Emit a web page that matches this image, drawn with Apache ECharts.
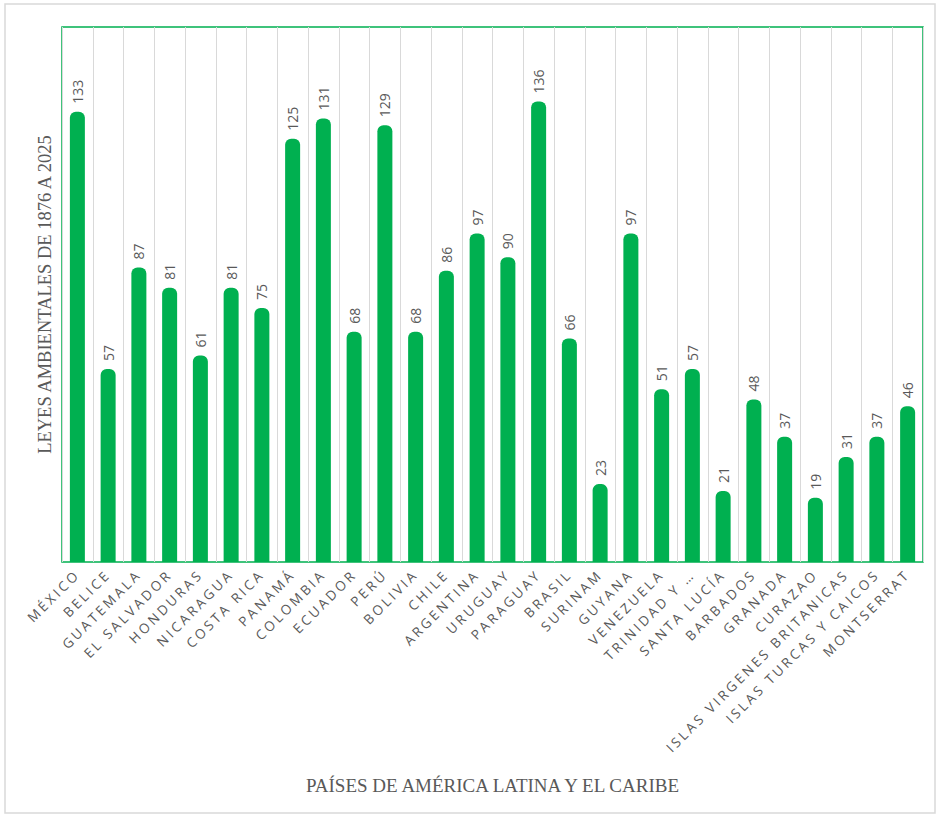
<!DOCTYPE html>
<html>
<head>
<meta charset="utf-8">
<script src="https://cdn.jsdelivr.net/npm/echarts@6/dist/echarts.min.js"></script>
<style>
html,body{margin:0;padding:0;background:#fff;}
#chart{width:939px;height:817px;}
</style>
</head>
<body>
<div id="chart"></div>
<script>
const categories = ["MÉXICO","BELICE","GUATEMALA","EL SALVADOR","HONDURAS","NICARAGUA","COSTA RICA","PANAMÁ","COLOMBIA","ECUADOR","PERÚ","BOLIVIA","CHILE","ARGENTINA","URUGUAY","PARAGUAY","BRASIL","SURINAM","GUYANA","VENEZUELA","TRINIDAD Y …","SANTA LUCÍA","BARBADOS","GRANADA","CURAZAO","ISLAS VIRGENES BRITANICAS","ISLAS TURCAS Y CAICOS","MONTSERRAT"];
const leyes = [133,57,87,81,61,81,75,125,131,68,129,68,86,97,90,136,66,23,97,51,57,21,48,37,19,31,37,46];
const yTitle = "LEYES AMBIENTALES DE 1876 A 2025";
const xTitle = "PAÍSES DE AMÉRICA LATINA Y EL CARIBE";

const chart = echarts.init(document.getElementById('chart'), null, {renderer:'svg'});
chart.setOption({
  animation:false,
  backgroundColor:'#fff',
  graphic:[{type:'rect',shape:{x:5,y:4,width:930,height:809},style:{fill:'none',stroke:'#d9d9d9',lineWidth:1.5},silent:true}],
  grid:{left:62,top:27,right:16,bottom:255,show:true,borderColor:'#00B050',borderWidth:1.5,backgroundColor:'transparent'},
  xAxis:{
    type:'category',data:categories,
    name:xTitle,nameLocation:'middle',nameGap:214,
    nameTextStyle:{fontFamily:'Liberation Serif',fontSize:19,color:'#595959'},
    axisLine:{show:false},axisTick:{show:false},
    splitLine:{show:true,lineStyle:{color:'#d9d9d9',width:1}},
    axisLabel:{interval:0,rotate:45,margin:10,color:'#595959',fontFamily:'Open Sans',fontSize:13.5}
  },
  yAxis:{
    type:'value',min:0,max:158,
    name:yTitle,nameLocation:'middle',nameGap:8,
    nameTextStyle:{fontFamily:'Liberation Serif',fontSize:18.5,color:'#595959'},
    axisLine:{show:false},axisTick:{show:false},axisLabel:{show:false},splitLine:{show:false}
  },
  series:[{
    type:'bar',data:leyes,barWidth:15,
    itemStyle:{color:'#00B050',borderRadius:[6,6,0,0]},
    label:{show:true,position:'top',rotate:90,align:'left',verticalAlign:'middle',distance:8,color:'#595959',fontFamily:'Open Sans',fontSize:14}
  }]
});
function spaceLabels(){
  const set = new Set(categories);
  document.querySelectorAll('#chart svg text').forEach(t=>{
    if (set.has(t.textContent.trim())) t.setAttribute('letter-spacing','2.9');
  });
}
spaceLabels();
chart.on('finished', spaceLabels);
setTimeout(spaceLabels, 0);
</script>
</body>
</html>
